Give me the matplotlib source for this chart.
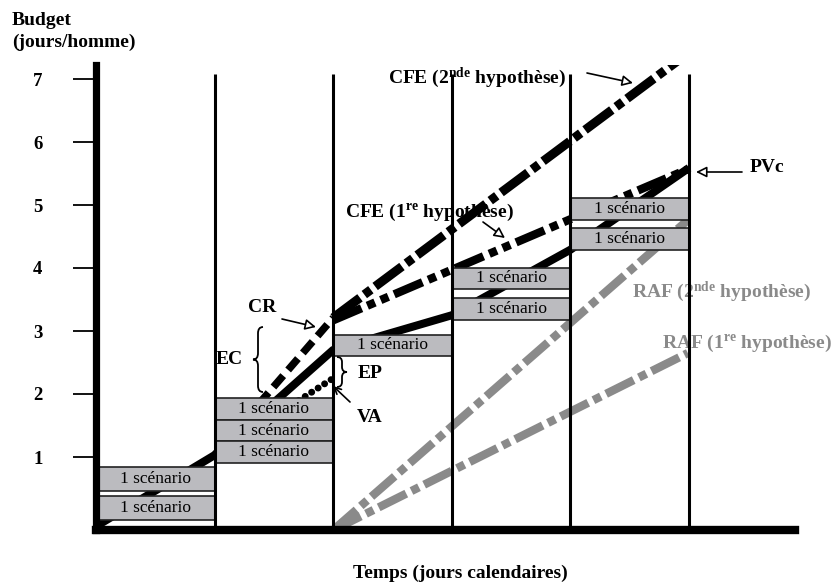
import matplotlib
matplotlib.use('Agg')
import matplotlib.pyplot as plt
from matplotlib.path import Path
from matplotlib.patches import PathPatch

plt.rcParams['font.family'] = ['Liberation Serif', 'DejaVu Serif']
plt.rcParams['mathtext.fontset'] = 'custom'
plt.rcParams['mathtext.rm'] = 'Liberation Serif'
plt.rcParams['mathtext.bf'] = 'Liberation Serif:bold'
plt.rcParams['mathtext.it'] = 'Liberation Serif:italic'

# ---------------- data ----------------
y_ticks = [1, 2, 3, 4, 5, 6, 7]
y_tick_labels = ['1', '2', '3', '4', '5', '6', '7']
period_bounds = [1, 2, 3, 4, 5]

box_cols = [0, 0, 1, 1, 1, 2, 3, 3, 4, 4]
box_bottoms = [0.46, 0.00, 1.59, 1.25, 0.90, 2.60, 3.67, 3.17, 4.76, 4.29]
box_tops = [0.84, 0.38, 1.94, 1.59, 1.25, 2.94, 4.00, 3.52, 5.11, 4.63]
box_label = "1 scénario"

pvc_x = [0, 1, 2, 3, 4, 5]
pvc_y = [-0.10, 1.03, 2.70, 3.25, 4.29, 5.59]
cr_x = [1, 2]
cr_y = [1.03, 3.21]
va_x = [1, 2]
va_y = [1.03, 2.25]
cfe1_x = [2, 4.98]
cfe1_y = [3.17, 5.56]
cfe2_x = [2, 4.97]
cfe2_y = [3.21, 7.38]
raf2_x = [2, 4.99]
raf2_y = [-0.16, 4.76]
raf1_x = [2, 4.99]
raf1_y = [-0.16, 2.65]

# ---------------- figure ----------------
W, H = 836, 583
fig = plt.figure(figsize=(W / 100, H / 100), dpi=100)
ax_l, ax_r, ax_t, ax_b = 96, 795, 65, 530
ax = fig.add_axes([ax_l / W, 1 - ax_b / H, (ax_r - ax_l) / W, (ax_b - ax_t) / H])
x0_px, xs = 96, 118.6
y0_px, ys = 520, 63.0
ax.set_xlim((ax_l - x0_px) / xs, (ax_r - x0_px) / xs)
ylo = (y0_px - ax_b) / ys
ax.set_ylim(ylo, (y0_px - ax_t) / ys)

GRAY = '#8a8a8a'
BOXC = '#bbbbbf'

for s in ['top', 'right']:
    ax.spines[s].set_visible(False)
ax.spines['left'].set_linewidth(5.2)
ax.spines['bottom'].set_linewidth(6.0)
ax.spines['left'].set_capstyle('projecting')
ax.spines['bottom'].set_capstyle('projecting')
ax.spines['left'].set_zorder(6)
ax.spines['bottom'].set_zorder(6)
ax.set_xticks([])
ax.set_yticks(y_ticks)
ax.set_yticklabels(y_tick_labels, fontsize=13.5, fontweight='bold')
ax.tick_params(axis='y', length=16.5, width=1.3, pad=22, direction='out')

# period separators
ax.vlines(period_bounds, ylo, 7.08, color='black', lw=2.2, zorder=4)

# lines (behind boxes)
ax.plot(pvc_x, pvc_y, color='black', lw=5.8, solid_capstyle='butt', zorder=2)
ax.plot(cr_x, cr_y, color='black', lw=5.4, ls=(0, (2.0, 1.0)), dash_capstyle='butt', zorder=2)
ax.plot(va_x, va_y, color='black', lw=5.0, ls=(0, (0.01, 1.1)), dash_capstyle='round', zorder=2)
ax.plot(cfe1_x, cfe1_y, color='black', lw=6.0, ls=(0, (3.7, 0.75, 1.0, 0.75, 1.0, 0.75)), zorder=2)
ax.plot(cfe2_x, cfe2_y, color='black', lw=6.5, ls=(0, (3.7, 0.6, 0.9, 0.6)), zorder=2)
ax.plot(raf2_x, raf2_y, color=GRAY, lw=6.0, ls=(0, (3.7, 0.7, 1.0, 0.7)), zorder=2)
ax.plot(raf1_x, raf1_y, color=GRAY, lw=6.0, ls=(0, (3.7, 0.7, 1.0, 0.7)), zorder=2)

# scenario boxes
heights = [t - b for t, b in zip(box_tops, box_bottoms)]
ax.bar(box_cols, heights, bottom=box_bottoms, width=1, align='edge',
       color=BOXC, edgecolor='#222222', linewidth=1.2, zorder=3)
for c, b, t in zip(box_cols, box_bottoms, box_tops):
    ax.text(c + 0.5, (b + t) / 2, box_label, ha='center', va='center',
            fontsize=12.5, zorder=5)


def P(xp, yp):
    return ((xp - x0_px) / xs, (y0_px - yp) / ys)


bold = dict(fontsize=14, fontweight='bold', clip_on=False)
ax.text(*P(477, 78), 'CFE (2$^{\\mathbf{nde}}$ hypothèse)', ha='center', va='center', **bold)
ax.text(*P(429, 212), 'CFE (1$^{\\mathbf{re}}$ hypothèse)', ha='center', va='center', **bold)
ax.text(*P(750, 167), 'PVc', ha='left', va='center', **bold)
ax.text(*P(262, 307), 'CR', ha='center', va='center', **bold)
ax.text(*P(229, 360), 'EC', ha='center', va='center', **bold)
ax.text(*P(370, 373), 'EP', ha='center', va='center', **bold)
ax.text(*P(370, 418), 'VA', ha='center', va='center', **bold)
ax.text(*P(632, 292), 'RAF (2$^{\\mathbf{nde}}$ hypothèse)', ha='left', va='center', color=GRAY, **bold)
ax.text(*P(662, 343), 'RAF (1$^{\\mathbf{re}}$ hypothèse)', ha='left', va='center', color=GRAY, **bold)

open_arrow = dict(arrowstyle='-|>', fc='white', ec='black', lw=1.2, mutation_scale=16,
                  shrinkA=0, shrinkB=0)
for (xa, ya), (xb, yb) in [((587, 73), (633, 83)), ((483, 222), (505, 238)),
                           ((742, 172), (696, 172)), ((282, 319), (316, 327))]:
    ax.annotate('', xy=P(xb, yb), xytext=P(xa, ya), arrowprops=open_arrow,
                annotation_clip=False, zorder=7)
ax.annotate('', xy=P(333, 386), xytext=P(350, 402),
            arrowprops=dict(arrowstyle='->', color='black', lw=1.2, mutation_scale=12,
                            shrinkA=0, shrinkB=0), annotation_clip=False, zorder=7)


def brace(xtip, xend, ytop, ybot, r=0.10):
    xm = (xtip + xend) / 2
    ym = (ytop + ybot) / 2
    verts = [(xend, ytop), (xm, ytop), (xm, ytop - r), (xm, ym + r), (xm, ym), (xtip, ym),
             (xm, ym), (xm, ym - r), (xm, ybot + r), (xm, ybot), (xend, ybot)]
    codes = [Path.MOVETO, Path.CURVE3, Path.CURVE3, Path.LINETO, Path.CURVE3, Path.CURVE3,
             Path.CURVE3, Path.CURVE3, Path.LINETO, Path.CURVE3, Path.CURVE3]
    ax.add_patch(PathPatch(Path(verts, codes), fill=False, lw=1.3, ec='black',
                           zorder=7, clip_on=False))


xt, yt = P(253, 327)
xe, yb = P(263, 392)
brace(xt, xe, yt, yb)
xt, yt = P(347, 357)
xe, yb = P(337, 387)
brace(xt, xe, yt, yb, r=0.08)

fig.text(12 / W, 1 - 25 / H, 'Budget', fontsize=14, fontweight='bold', ha='left', va='baseline')
fig.text(12 / W, 1 - 47 / H, '(jours/homme)', fontsize=14, fontweight='bold', ha='left', va='baseline')
fig.text(460 / W, 1 - 578 / H, 'Temps (jours calendaires)', fontsize=14, fontweight='bold',
         ha='center', va='baseline')

fig.savefig('out.png', dpi=100)
